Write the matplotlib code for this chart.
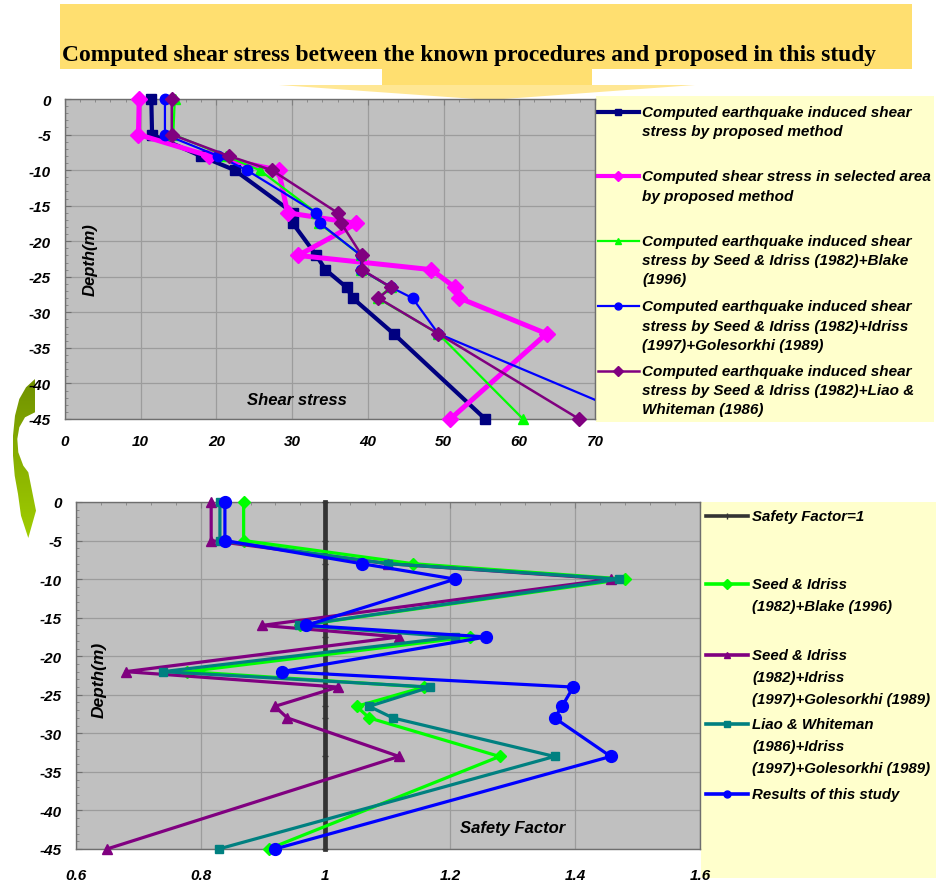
import matplotlib
matplotlib.use("Agg")
import matplotlib.pyplot as plt
import numpy as np
from matplotlib.patches import Polygon, Rectangle
from matplotlib.lines import Line2D
from matplotlib.colors import LinearSegmentedColormap

W, H = 937, 887

# ---------------- data ----------------
depth = [0, -5, -8, -10, -16, -17.5, -22, -24, -26.5, -28, -33, -45]

# top chart: shear stress
shear_proposed = [11.4, 11.5, 17.9, 22.4, 30.1, 30.1, 33.2, 34.4, 37.2, 38.0, 43.4, 55.5]
shear_selected = [9.8, 9.7, 19.0, 28.2, 29.4, 38.5, 30.8, 48.4, 51.5, 52.1, 63.6, 50.9]
shear_blake = [14.5, 14.3, 21.2, 25.7, 33.2, 33.6, 39.1, 39.1, 43.0, 41.3, 49.3, 60.5]
shear_golesorkhi = [13.2, 13.2, 20.2, 24.0, 33.2, 33.7, 39.1, 39.1, 43.1, 45.9, 49.3, 76.0]
shear_liao = [14.1, 14.1, 21.6, 27.3, 36.0, 36.5, 39.2, 39.2, 43.1, 41.4, 49.3, 67.9]

top_legend = [
    ["Computed earthquake induced shear", "stress by proposed method"],
    ["Computed shear stress in selected area", "by proposed method"],
    ["Computed earthquake induced shear", "stress by Seed & Idriss (1982)+Blake", "(1996)"],
    ["Computed earthquake induced shear", "stress by Seed & Idriss (1982)+Idriss", "(1997)+Golesorkhi (1989)"],
    ["Computed earthquake induced shear", "stress by Seed & Idriss (1982)+Liao &", "Whiteman (1986)"],
]

# bottom chart: safety factor
sf_one = [1, 1, 1, 1, 1, 1, 1, 1, 1, 1, 1, 1]
sf_blake = [0.869, 0.869, 1.140, 1.480, 0.960, 1.231, 0.779, 1.158, 1.050, 1.070, 1.279, 0.909]
sf_golesorkhi = [0.817, 0.817, 1.100, 1.458, 0.899, 1.118, 0.680, 1.020, 0.919, 0.939, 1.118, 0.650]
sf_liao = [0.831, 0.831, 1.100, 1.470, 0.957, 1.208, 0.740, 1.168, 1.070, 1.108, 1.367, 0.829]
sf_study = [0.839, 0.839, 1.058, 1.208, 0.969, 1.258, 0.930, 1.397, 1.379, 1.367, 1.457, 0.919]

bottom_legend = [
    ["Safety Factor=1"],
    ["Seed & Idriss", "(1982)+Blake (1996)"],
    ["Seed & Idriss", "(1982)+Idriss", "(1997)+Golesorkhi (1989)"],
    ["Liao & Whiteman", "(1986)+Idriss", "(1997)+Golesorkhi (1989)"],
    ["Results of this study"],
]

depth_ticks = [0, -5, -10, -15, -20, -25, -30, -35, -40, -45]
depth_ticklabels = ["0", "-5", "-10", "-15", "-20", "-25", "-30", "-35", "-40", "-45"]
shear_ticks = [0, 10, 20, 30, 40, 50, 60, 70]
shear_ticklabels = ["0", "10", "20", "30", "40", "50", "60", "70"]
sf_ticks = [0.6, 0.8, 1.0, 1.2, 1.4, 1.6]
sf_ticklabels = ["0.6", "0.8", "1", "1.2", "1.4", "1.6"]

title = "Computed shear stress between the known procedures and proposed in this study"

# ---------------- styles ----------------
FONT = "Liberation Sans"
tickfont = dict(family=FONT, weight="bold", style="italic", size=11)
PLOT_BG = "#C0C0C0"
GRID = "#9C9C9C"
LEG_BG = "#FFFFCC"

fig = plt.figure(figsize=(W / 100, H / 100), dpi=100)
fig.patch.set_facecolor("white")

# background/decoration axes in pixel coordinates
bg = fig.add_axes([0, 0, 1, 1], zorder=0)
bg.set_xlim(0, W)
bg.set_ylim(H, 0)
bg.axis("off")

# banner
banner_col = "#FFDF70"
bg.add_patch(Rectangle((60, 5), 852, 65, facecolor=banner_col, edgecolor="none"))
bg.add_patch(Rectangle((382, 69), 210, 17, facecolor=banner_col, edgecolor="none"))
bg.add_patch(Polygon([(279, 86), (695, 86), (490, 101)], closed=True,
                     facecolor=banner_col, edgecolor="none", alpha=0.75))
bg.text(469, 55, title, family="Liberation Serif", weight="bold", size=16.9,
        ha="center", va="center", color="black")

# curved green arrow (left)
arrow_pts = [(35, 380), (26, 388.3), (19.3, 400), (15, 416.7), (13, 436.7), (13, 456.7),
             (14.7, 476.7), (18, 495), (21, 516.7), (28.3, 539), (36, 511.7), (28.3, 473.3),
             (23.3, 466.7), (18.3, 453.3), (17.3, 440), (19.3, 428.3), (25, 418.3), (35, 413.3)]
arrow_patch = Polygon(arrow_pts, closed=True, facecolor="none", edgecolor="none")
bg.add_patch(arrow_patch)
grad_cmap = LinearSegmentedColormap.from_list("g", ["#6F9000", "#A2D000"])
grad = np.linspace(0, 1, 100).reshape(-1, 1)
im = bg.imshow(grad, extent=[5, 45, 545, 375], cmap=grad_cmap, aspect="auto",
               origin="upper", zorder=1)
im.set_clip_path(arrow_patch)
bg.set_xlim(0, W)
bg.set_ylim(H, 0)

# legend boxes
bg.add_patch(Rectangle((596, 97), 338, 326, facecolor=LEG_BG, edgecolor="none"))
bg.add_patch(Rectangle((701, 503), 240, 376, facecolor=LEG_BG, edgecolor="none"))


def style_axes(ax):
    ax.set_facecolor(PLOT_BG)
    for s in ax.spines.values():
        s.set_color("#6E6E6E")
        s.set_linewidth(1.0)
    ax.grid(True, which="major", color=GRID, linewidth=0.9)
    ax.set_axisbelow(True)
    ax.set_ylim(-45, 0)
    ax.set_yticks(depth_ticks)
    ax.set_yticklabels(depth_ticklabels, fontdict=tickfont)
    ax.yaxis.set_minor_locator(matplotlib.ticker.MultipleLocator(1))
    ax.tick_params(axis="y", which="major", direction="in", length=4, pad=10, color="#707070")
    ax.tick_params(axis="y", which="minor", direction="in", length=2, color="#808080")
    ax.tick_params(axis="x", which="both", bottom=False, top=True, direction="in",
                   color="#808080")


# ---------------- top chart ----------------
ax1 = fig.add_axes([65 / W, 1 - 420 / H, 530 / W, 320 / H], zorder=2)
style_axes(ax1)
ax1.set_xlim(0, 70)
ax1.set_xticks(shear_ticks)
ax1.set_xticklabels(shear_ticklabels, fontdict=tickfont)
ax1.xaxis.set_minor_locator(matplotlib.ticker.MultipleLocator(2))
ax1.tick_params(axis="x", which="major", length=4, pad=11)
ax1.tick_params(axis="x", which="minor", length=2)
ax1.tick_params(axis="x", labelbottom=True, labeltop=False)

top_series = [
    (shear_proposed, "#000080", "s", 7.5, 3.0),
    (shear_selected, "#FF00FF", "D", 8.5, 3.6),
    (shear_blake, "#00FF00", "^", 7.5, 1.6),
    (shear_golesorkhi, "#0000FF", "o", 7.5, 1.6),
    (shear_liao, "#800080", "D", 7.0, 1.8),
]
xmax1 = 70
for vals, col, mk, ms, lw in top_series:
    v = np.asarray(vals, dtype=float)
    d = np.asarray(depth, dtype=float)
    ax1.plot(v, d, color=col, linewidth=lw, zorder=3)
    inside = v <= xmax1
    ax1.plot(v[inside], d[inside], linestyle="none", marker=mk, markersize=ms,
             color=col, markeredgecolor=col, clip_on=False, zorder=3)
ax1.text(30.6, -42.3, "Shear stress", family=FONT, weight="bold", style="italic",
         size=12, ha="center", va="center")
ax1.text(0.047, 0.50, "Depth(m)", transform=ax1.transAxes, family=FONT, weight="bold",
         style="italic", size=12, rotation=90, ha="center", va="center")

# top legend
top_entry_y = [112.7, 177.3, 241.7, 307.3, 371.7]
for (vals, col, mk, ms, lw), lines, y0 in zip(top_series, top_legend, top_entry_y):
    bg.add_line(Line2D([598, 639], [y0, y0], color=col, linewidth=min(lw, 3.0)))
    bg.add_line(Line2D([618.5], [y0], color=col, marker=mk, markersize=5,
                       markeredgecolor=col))
    for i, t in enumerate(lines):
        bg.text(642, y0 + i * 19.3, t, family=FONT, weight="bold", style="italic",
                size=11, ha="left", va="center")

# ---------------- bottom chart ----------------
ax2 = fig.add_axes([75.7 / W, 1 - 850 / H, 624.3 / W, 347 / H], zorder=2)
style_axes(ax2)
ax2.set_xlim(0.6, 1.6)
ax2.set_xticks(sf_ticks)
ax2.set_xticklabels(sf_ticklabels, fontdict=tickfont)
ax2.xaxis.set_minor_locator(matplotlib.ticker.MultipleLocator(0.04))
ax2.tick_params(axis="x", which="major", length=4, pad=14)
ax2.tick_params(axis="x", which="minor", length=2)

bottom_series = [
    (sf_one, "#333333", "_", 4, 3.4),
    (sf_blake, "#00FF00", "D", 6.0, 2.3),
    (sf_golesorkhi, "#800080", "^", 7.0, 2.3),
    (sf_liao, "#008080", "s", 6.0, 2.3),
    (sf_study, "#0000FF", "o", 8.5, 2.3),
]
for vals, col, mk, ms, lw in bottom_series:
    ax2.plot(vals, depth, color=col, marker=mk, markersize=ms, linewidth=lw,
             markeredgecolor=col, clip_on=False, zorder=3)
ax2.text(1.30, -42.2, "Safety Factor", family=FONT, weight="bold", style="italic",
         size=12, ha="center", va="center")
ax2.text(0.037, 0.49, "Depth(m)", transform=ax2.transAxes, family=FONT, weight="bold",
         style="italic", size=12.5, rotation=90, ha="center", va="center")

# bottom legend
bottom_entry_y = [516.7, 585, 655.7, 725, 795]
bottom_markers = ["|", "D", "^", "s", "o"]
for (vals, col, mk, ms, lw), lines, y0, lmk in zip(bottom_series, bottom_legend,
                                                   bottom_entry_y, bottom_markers):
    bg.add_line(Line2D([706, 748], [y0, y0], color=col, linewidth=2.6))
    bg.add_line(Line2D([727], [y0], color=col, marker=lmk, markersize=5,
                       markeredgecolor=col))
    for i, t in enumerate(lines):
        bg.text(752, y0 + i * 22.2, t, family=FONT, weight="bold", style="italic",
                size=10.8, ha="left", va="center")

fig.savefig("out.png", dpi=100, facecolor="white")
